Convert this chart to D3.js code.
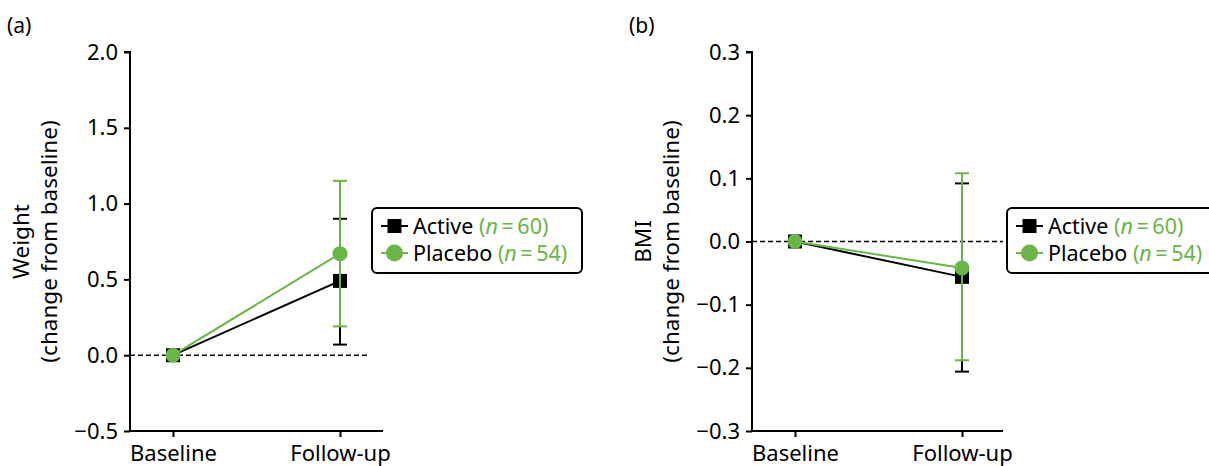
<!DOCTYPE html>
<html lang="en">
<head>
  <meta charset="UTF-8">
  <title>Weight and BMI change from baseline</title>
  <script src="https://cdn.jsdelivr.net/npm/d3@7"></script>
  <style>
    body { margin: 0; padding: 0; background: #fff; }
    svg { display: block; font-family: "Noto Sans", "Open Sans", sans-serif; }
  </style>
</head>
<body>
<div id="chart"></div>

<script>
  // Time points on the x axis
  const timepoints = ["Baseline", "Follow-up"];

  // Groups
  const groups = ["Active", "Placebo"];
  const groupN = [60, 54];

  // (a) Weight: mean change and error bar ends
  const weightActive = [0, 0.49];
  const weightActiveLow = [0, 0.07];
  const weightActiveHigh = [0, 0.90];
  const weightPlacebo = [0, 0.67];
  const weightPlaceboLow = [0, 0.19];
  const weightPlaceboHigh = [0, 1.15];
  const weightTicks = [-0.5, 0.0, 0.5, 1.0, 1.5, 2.0];

  // (b) BMI: mean change and error bar ends
  const bmiActive = [0, -0.056];
  const bmiActiveLow = [0, -0.206];
  const bmiActiveHigh = [0, 0.092];
  const bmiPlacebo = [0, -0.042];
  const bmiPlaceboLow = [0, -0.188];
  const bmiPlaceboHigh = [0, 0.108];
  const bmiTicks = [-0.3, -0.2, -0.1, 0.0, 0.1, 0.2, 0.3];

  const width = 1209, height = 466;
  const green = "#6ab545";
  const fmt = d => d3.format(".1f")(d).replace("-", "\u2212");

  const svg = d3.select("#chart").append("svg")
      .attr("width", width)
      .attr("height", height);

  const panels = [
    {
      tag: "(a)", left: 130, right: 383, legendX: 372, dashEnd: 368,
      title: ["Weight", "(change from baseline)"],
      domain: [-0.5, 2.0], ticks: weightTicks,
      series: [
        { mean: weightActive, lo: weightActiveLow, hi: weightActiveHigh },
        { mean: weightPlacebo, lo: weightPlaceboLow, hi: weightPlaceboHigh }
      ]
    },
    {
      tag: "(b)", left: 752, right: 1003, legendX: 1007, dashEnd: 1003,
      title: ["BMI", "(change from baseline)"],
      domain: [-0.3, 0.3], ticks: bmiTicks,
      series: [
        { mean: bmiActive, lo: bmiActiveLow, hi: bmiActiveHigh },
        { mean: bmiPlacebo, lo: bmiPlaceboLow, hi: bmiPlaceboHigh }
      ]
    }
  ];

  const plotTop = 52, plotBottom = 431;
  const colors = [ "#000", green ];

  panels.forEach(p => {
    const g = svg.append("g");

    const y = d3.scaleLinear().domain(p.domain).range([plotBottom, plotTop]);
    const x = d3.scalePoint().domain(timepoints)
        .range([p.left + 43, p.left + 210]);

    // panel tag
    g.append("text")
        .attr("x", p.left - 123)
        .attr("y", 33)
        .attr("font-size", 21)
        .text(p.tag);

    // y axis
    const yAxis = g.append("g")
        .attr("transform", `translate(${p.left},0)`)
        .call(d3.axisLeft(y).tickValues(p.ticks).tickFormat(fmt).tickSize(6).tickPadding(6));
    yAxis.select(".domain").attr("d", `M-6,${plotTop}H0V${plotBottom}`);

    // x axis
    const xAxis = g.append("g")
        .attr("transform", `translate(0,${plotBottom})`)
        .call(d3.axisBottom(x).tickSize(6).tickPadding(8));
    xAxis.select(".domain").attr("d", `M${p.left},0H${p.right}`);

    g.selectAll(".domain, .tick line").attr("stroke", "#000").attr("stroke-width", 2);
    g.selectAll(".tick text").attr("font-size", 22).attr("fill", "#000")
        .attr("font-family", "'Noto Sans', sans-serif");

    // y axis title
    const tx = g.append("text")
        .attr("transform", `translate(${p.left - 101},${(plotTop + plotBottom) / 2}) rotate(-90)`)
        .attr("text-anchor", "middle")
        .attr("font-size", 22.5);
    tx.append("tspan").attr("x", 0).attr("dy", 0).text(p.title[0]);
    tx.append("tspan").attr("x", 0).attr("dy", 28).text(p.title[1]);

    // zero reference
    g.append("line")
        .attr("x1", p.left).attr("x2", p.dashEnd)
        .attr("y1", y(0)).attr("y2", y(0))
        .attr("stroke", "#000").attr("stroke-width", 1.5)
        .attr("stroke-dasharray", "5,3");

    p.series.forEach((s, i) => {
      const c = colors[i];
      const sg = g.append("g");
      // error bars
      timepoints.forEach((t, j) => {
        if (s.hi[j] === s.lo[j]) return;
        sg.append("line")
            .attr("x1", x(t)).attr("x2", x(t))
            .attr("y1", y(s.lo[j])).attr("y2", y(s.hi[j]))
            .attr("stroke", c).attr("stroke-width", 2);
        [s.lo[j], s.hi[j]].forEach(v => {
          sg.append("line")
              .attr("x1", x(t) - 7).attr("x2", x(t) + 7)
              .attr("y1", y(v)).attr("y2", y(v))
              .attr("stroke", c).attr("stroke-width", 2);
        });
      });
      // mean line
      sg.append("path")
          .datum(s.mean)
          .attr("fill", "none")
          .attr("stroke", c).attr("stroke-width", 2)
          .attr("d", d3.line().x((d, j) => x(timepoints[j])).y(d => y(d)));
      // markers
      s.mean.forEach((v, j) => {
        if (i === 0) {
          sg.append("rect")
              .attr("x", x(timepoints[j]) - 7).attr("y", y(v) - 7)
              .attr("width", 14).attr("height", 14)
              .attr("fill", c);
        } else {
          sg.append("circle")
              .attr("cx", x(timepoints[j])).attr("cy", y(v))
              .attr("r", 7.5).attr("fill", c);
        }
      });
    });

    // legend
    const lg = g.append("g").attr("transform", `translate(${p.legendX},208)`);
    lg.append("rect")
        .attr("x", 0).attr("y", 0)
        .attr("width", 210).attr("height", 65)
        .attr("rx", 5)
        .attr("fill", "#fff").attr("stroke", "#000").attr("stroke-width", 2);
    groups.forEach((name, i) => {
      const cy = 18 + i * 27;
      const c = colors[i];
      lg.append("line")
          .attr("x1", 9).attr("x2", 36)
          .attr("y1", cy).attr("y2", cy)
          .attr("stroke", c).attr("stroke-width", 2);
      if (i === 0) {
        lg.append("rect").attr("x", 15.5).attr("y", cy - 7)
            .attr("width", 14).attr("height", 14).attr("fill", c);
      } else {
        lg.append("circle").attr("cx", 22.5).attr("cy", cy)
            .attr("r", 8.5).attr("fill", c);
      }
      const t = lg.append("text")
          .attr("x", 41).attr("y", cy + 7.5)
          .attr("font-size", 21.5);
      t.append("tspan").text(name + " ");
      t.append("tspan").attr("fill", green).text("(");
      t.append("tspan").attr("fill", green).attr("font-style", "italic").text("n");
      t.append("tspan").attr("fill", green).text("\u2009=\u2009" + groupN[i] + ")");
    });
  });
</script>
</body>
</html>
